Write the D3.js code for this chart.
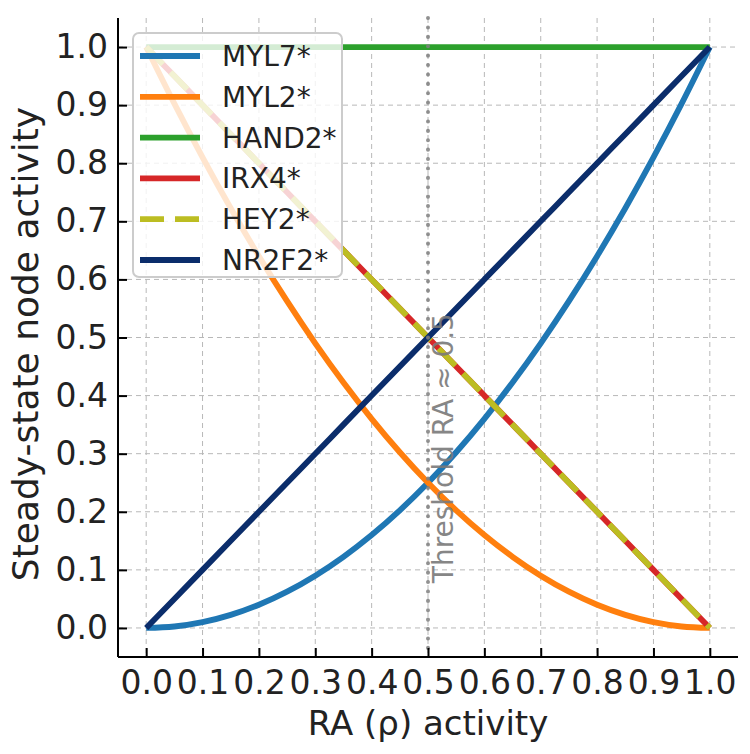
<!DOCTYPE html>
<html>
<head>
<meta charset="utf-8">
<script src="https://cdn.jsdelivr.net/npm/d3@7"></script>
<style>
  html, body { margin: 0; padding: 0; background: #fff; }
  svg text { font-family: "DejaVu Sans", sans-serif; }
</style>
</head>
<body>
<svg id="chart" width="750" height="754"></svg>
<script>
// ---- data ----
const rho = [0, 0.05, 0.1, 0.15, 0.2, 0.25, 0.3, 0.35, 0.4, 0.45, 0.5, 0.55, 0.6, 0.65, 0.7, 0.75, 0.8, 0.85, 0.9, 0.95, 1.0];
const myl7 = [0, 0.0025, 0.01, 0.0225, 0.04, 0.0625, 0.09, 0.1225, 0.16, 0.2025, 0.25, 0.3025, 0.36, 0.4225, 0.49, 0.5625, 0.64, 0.7225, 0.81, 0.9025, 1.0];
const myl2 = [1.0, 0.9025, 0.81, 0.7225, 0.64, 0.5625, 0.49, 0.4225, 0.36, 0.3025, 0.25, 0.2025, 0.16, 0.1225, 0.09, 0.0625, 0.04, 0.0225, 0.01, 0.0025, 0];
const hand2 = [1, 1, 1, 1, 1, 1, 1, 1, 1, 1, 1, 1, 1, 1, 1, 1, 1, 1, 1, 1, 1];
const irx4 = [1.0, 0.95, 0.9, 0.85, 0.8, 0.75, 0.7, 0.65, 0.6, 0.55, 0.5, 0.45, 0.4, 0.35, 0.3, 0.25, 0.2, 0.15, 0.1, 0.05, 0];
const hey2 = [1.0, 0.95, 0.9, 0.85, 0.8, 0.75, 0.7, 0.65, 0.6, 0.55, 0.5, 0.45, 0.4, 0.35, 0.3, 0.25, 0.2, 0.15, 0.1, 0.05, 0];
const nr2f2 = [0, 0.05, 0.1, 0.15, 0.2, 0.25, 0.3, 0.35, 0.4, 0.45, 0.5, 0.55, 0.6, 0.65, 0.7, 0.75, 0.8, 0.85, 0.9, 0.95, 1.0];
const seriesNames = ["MYL7*", "MYL2*", "HAND2*", "IRX4*", "HEY2*", "NR2F2*"];
const xTicks = [0, 0.1, 0.2, 0.3, 0.4, 0.5, 0.6, 0.7, 0.8, 0.9, 1.0];
const yTicks = [0, 0.1, 0.2, 0.3, 0.4, 0.5, 0.6, 0.7, 0.8, 0.9, 1.0];
const threshold = 0.5;
const thresholdLabel = "Threshold RA ≈ 0.5";
const xLabel = "RA (ρ) activity";
const yLabel = "Steady-state node activity";

// ---- styles ----
const seriesValues = [myl7, myl2, hand2, irx4, hey2, nr2f2];
const colors = ["#1f77b4", "#ff7f0e", "#2ca02c", "#d62728", "#bcbd22", "#0b2d6b"];
const dashes = [null, null, null, null, "24,11", null];

const svg = d3.select("#chart");
const L = 118, R = 738, T = 18, B = 657;
const x = d3.scaleLinear().domain([-0.05, 1.05]).range([L, R]);
const y = d3.scaleLinear().domain([-0.05, 1.05]).range([B, T]);

// grid
const grid = svg.append("g");
grid.selectAll(".gx").data(xTicks).join("line")
  .attr("x1", d => x(d)).attr("x2", d => x(d)).attr("y1", T).attr("y2", B)
  .attr("stroke", "#b8b8b8").attr("stroke-width", 1).attr("stroke-dasharray", "5,4");
grid.selectAll(".gy").data(yTicks).join("line")
  .attr("y1", d => y(d)).attr("y2", d => y(d)).attr("x1", L).attr("x2", R)
  .attr("stroke", "#b8b8b8").attr("stroke-width", 1).attr("stroke-dasharray", "5,4");

// lines
const line = d3.line().x((d, i) => x(rho[i])).y(d => y(d)).curve(d3.curveMonotoneX);
seriesValues.forEach((vals, k) => {
  svg.append("path").datum(vals)
    .attr("d", line)
    .attr("fill", "none")
    .attr("stroke", colors[k])
    .attr("stroke-width", 5.8)
    .attr("stroke-linejoin", "round")
    .attr("stroke-dasharray", dashes[k]);
});

// threshold
svg.append("line")
  .attr("x1", x(threshold)).attr("x2", x(threshold)).attr("y1", T).attr("y2", B)
  .attr("stroke", "#808080").attr("stroke-width", 4).attr("stroke-linecap", "round")
  .attr("stroke-dasharray", "0.1,9.3").attr("opacity", 0.85);
svg.append("text")
  .attr("transform", `translate(${x(threshold) + 24.5},${y(0.077)}) rotate(-90)`)
  .attr("font-size", 28).attr("fill", "#7a7a7a").attr("opacity", 0.9)
  .text(thresholdLabel);

// axes
const xAxis = d3.axisBottom(x).tickValues(xTicks).tickFormat(d3.format(".1f")).tickSizeInner(-9).tickSizeOuter(0).tickPadding(14);
const yAxis = d3.axisLeft(y).tickValues(yTicks).tickFormat(d3.format(".1f")).tickSizeInner(-9).tickSizeOuter(0).tickPadding(10);
const gx = svg.append("g").attr("transform", `translate(0,${B})`).call(xAxis);
const gy = svg.append("g").attr("transform", `translate(${L},0)`).call(yAxis);
[gx, gy].forEach(g => {
  g.select(".domain").attr("stroke", "#000").attr("stroke-width", 2);
  g.selectAll(".tick line").attr("stroke", "#000").attr("stroke-width", 2);
  g.selectAll(".tick text").attr("font-size", 33).attr("fill", "#222").attr("font-family", "DejaVu Sans, sans-serif");
});
gx.select(".domain").attr("d", `M${L},0H${R}`);
gy.select(".domain").attr("d", `M0,${T}V${B}`);

svg.append("text").attr("x", (L + R) / 2).attr("y", 735)
  .attr("text-anchor", "middle").attr("font-size", 34).attr("fill", "#222").text(xLabel);
svg.append("text").attr("transform", `translate(38,344) rotate(-90)`)
  .attr("text-anchor", "middle").attr("font-size", 36).attr("fill", "#222").text(yLabel);

// legend
const lg = svg.append("g");
lg.append("rect").attr("x", 133).attr("y", 33).attr("width", 209).attr("height", 244)
  .attr("rx", 6).attr("fill", "#fff").attr("fill-opacity", 0.8).attr("stroke", "#cccccc").attr("stroke-width", 2);
seriesNames.forEach((name, k) => {
  const yy = 56 + k * 40.8;
  lg.append("line").attr("x1", 140).attr("x2", 200).attr("y1", yy).attr("y2", yy)
    .attr("stroke", colors[k]).attr("stroke-width", 5.8).attr("stroke-dasharray", dashes[k]);
  lg.append("text").attr("x", 222).attr("y", yy).attr("dy", "0.36em")
    .attr("font-size", 28).attr("fill", "#222").text(name);
});
</script>
</body>
</html>
